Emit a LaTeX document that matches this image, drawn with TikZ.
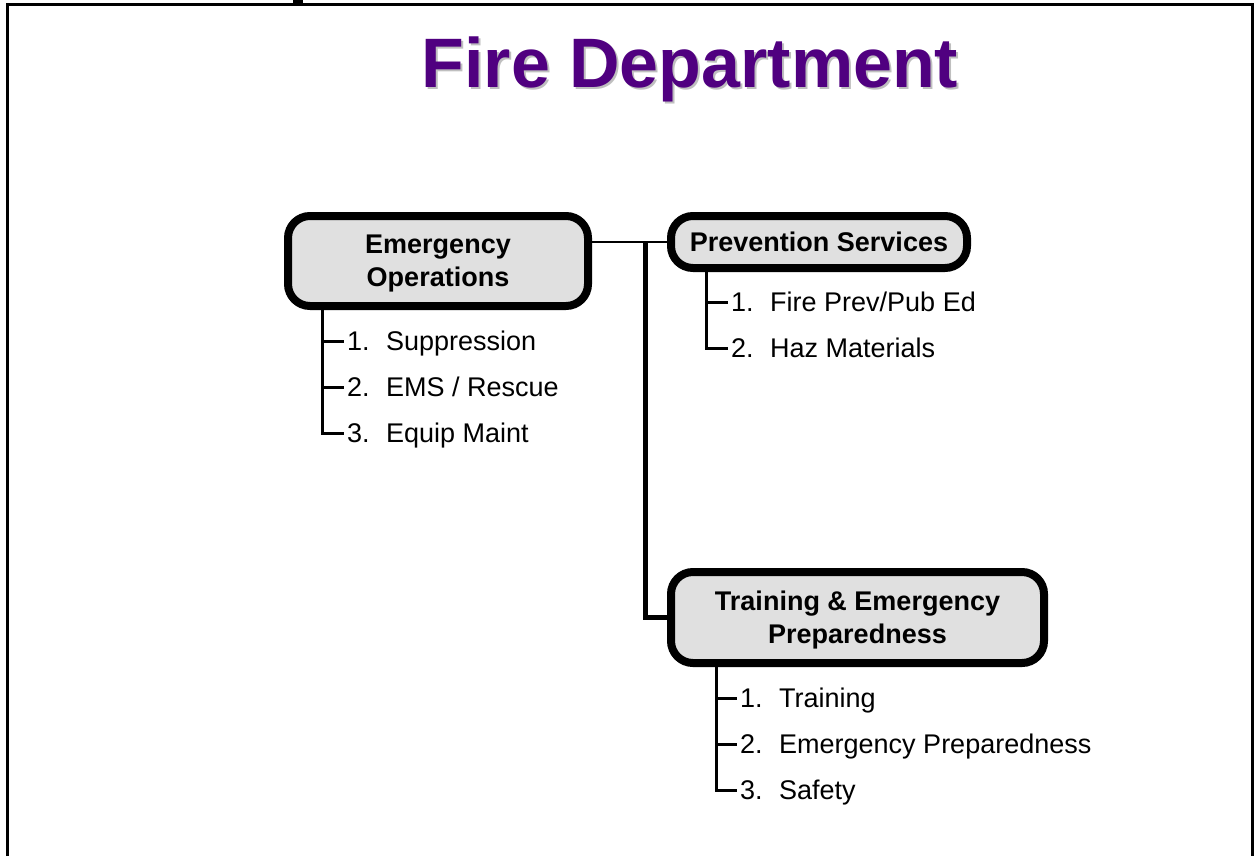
\documentclass[tikz,border=0pt]{standalone}
\usepackage{fontspec}
\setmainfont{Liberation Sans}
\usetikzlibrary{positioning}
\definecolor{titlepurple}{RGB}{80,0,128}
\definecolor{boxgray}{RGB}{224,224,224}

\begin{document}
\begin{tikzpicture}[x=1pt,y=-1pt,
        unit/.style={draw,line width=8pt,rounded corners=22pt,fill=boxgray,align=center,
            font=\bfseries\fontsize{27}{33}\selectfont,inner sep=0pt,text depth=0pt},
        item/.style={anchor=west,inner xsep=3pt,inner ysep=0pt,text height=19pt,text depth=0pt,
            font=\fontsize{27}{32}\selectfont},
        branch/.style={line width=3pt},
        link/.style={line width=2pt},
        trunk/.style={line width=5pt},
        heading/.style={font=\bfseries\fontsize{70}{80}\selectfont,anchor=base,inner sep=0pt}]

    \useasboundingbox (0,0) rectangle (1257,856);

    % frame
    \draw[line width=3pt] (7,856) -- (7,5) -- (1252,5) -- (1252,856);
    \fill (293,0) rectangle (303,5);

    % title
    \node[heading,text=black!25] at (692,90) {Fire Department};
    \node[heading,text=titlepurple] (title) at (690,88) {Fire Department};

    % units
    \node[unit,minimum width=300pt,minimum height=90pt] (emerg) at (438,261) {Emergency\\Operations};
    \node[unit,minimum width=296pt,minimum height=52pt] (prev) at (819,242) {Prevention Services};
    \node[unit,minimum width=373pt,minimum height=91pt] (train) at (857.5,617.5) {Training \& Emergency\\Preparedness};

    % sections
    \node[item] (e1) at (344,341) {\makebox[39pt][l]{1.}Suppression};
    \node[item] (e2) at (344,387) {\makebox[39pt][l]{2.}EMS / Rescue};
    \node[item] (e3) at (344,433) {\makebox[39pt][l]{3.}Equip Maint};

    \node[item] (p1) at (728,302) {\makebox[39pt][l]{1.}Fire Prev/Pub Ed};
    \node[item] (p2) at (728,348) {\makebox[39pt][l]{2.}Haz Materials};

    \node[item] (t1) at (737,698) {\makebox[39pt][l]{1.}Training};
    \node[item] (t2) at (737,744) {\makebox[39pt][l]{2.}Emergency Preparedness};
    \node[item] (t3) at (737,790) {\makebox[39pt][l]{3.}Safety};

    % connectors
    \coordinate (jn) at (645,242);
    \draw[link] (emerg.east |- prev.west) -- (prev.west);
    \draw[trunk] (jn) |- (train.west);

    \coordinate (es) at (322,306);
    \draw[branch] (es) |- (e3.west);
    \draw[branch] (es |- e1.west) -- (e1.west);
    \draw[branch] (es |- e2.west) -- (e2.west);

    \coordinate (ps) at (706,268);
    \draw[branch] (ps) |- (p2.west);
    \draw[branch] (ps |- p1.west) -- (p1.west);

    \coordinate (ts) at (716,663);
    \draw[branch] (ts) |- (t3.west);
    \draw[branch] (ts |- t1.west) -- (t1.west);
    \draw[branch] (ts |- t2.west) -- (t2.west);
\end{tikzpicture}
\end{document}
